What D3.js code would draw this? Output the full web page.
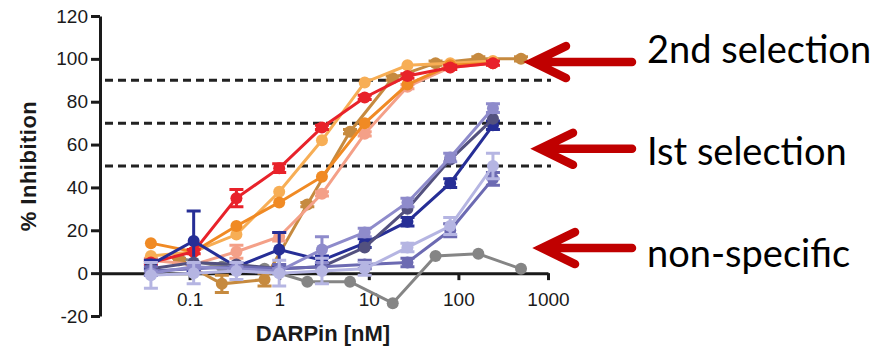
<!DOCTYPE html>
<html>
<head>
<meta charset="utf-8">
<script src="https://cdn.jsdelivr.net/npm/d3@7"></script>
<style>
  body { margin: 0; background: #fff; }
  svg { display: block; }
</style>
</head>
<body>
<div id="chart"></div>
<script>
// dilution series (nM)
const conc = [0.037, 0.111, 0.333, 1, 3, 9, 27, 81, 243];
const concB = [0.0762, 0.229, 0.686, 2.06, 6.17, 18.5, 55.6, 167, 500];

const xTicks = [0.1, 1, 10, 100, 1000];
const yTicks = [-20, 0, 20, 40, 60, 80, 100, 120];
const thresholds = [90, 70, 50];

const grayVals   = [7, 3, 2, -4, -4, -14, 8, 9, 2];
const brownVals  = [6, -5, -3, 32, 66, 91, 98, 100, 100];
const brownErr   = [1, 4, 3, 1, 1, 1, 1, 1, 1];
const salmonVals = [6, 4, 10, 17, 37, 65, 87, 96, 98];
const salmonErr  = [1, 1, 3, 2, 1, 1, 1, 1, 1];
const lightOrVals = [8, 10, 18, 38, 62, 89, 97, 98, 99];
const darkOrVals = [14, 10, 22, 33, 45, 70, 88, 97, 98];
const redVals    = [5, 10, 35, 49, 68, 82, 92, 96, 98];
const redErr     = [1, 1, 4, 2, 1, 1, 1, 1, 1];

const navyVals   = [4, 15, 3, 11, 6, 14, 24, 42, 69];
const navyErr    = [2, 14, 1, 8, 2, 2, 2, 2, 2];
const slateVals  = [2, 5, 4, 2, 3, 12, 30, 53, 72];
const medVals    = [1, 2, 3, 2, 3, 4, 5, 20, 44];
const medErr     = [2, 2, 2, 2, 2, 2, 2, 3, 3];
const purpleVals = [0, 3, 2, 1, 11, 19, 33, 54, 77];
const purpleErr  = [1, 1, 1, 1, 6, 2, 2, 2, 2];
const lavVals    = [-1, 0, 1, 0, 1, 2, 12, 22, 50];
const lavErr     = [6, 5, 4, 6, 6, 3, 2, 4, 6];

const labels = ["2nd selection", "Ist selection", "non-specific"];
const arrowTargets = [98.5, 58, 11.7];

const series = [
  {x: concB, v: grayVals, color: "#858585"},
  {x: concB, v: brownVals, e: brownErr, color: "#c68a3f"},
  {x: conc, v: salmonVals, e: salmonErr, color: "#f4a088"},
  {x: conc, v: lightOrVals, color: "#f7ae55"},
  {x: conc, v: darkOrVals, color: "#f08a24"},
  {x: conc, v: redVals, e: redErr, color: "#e8222a"},
  {x: conc, v: navyVals, e: navyErr, color: "#262e96"},
  {x: conc, v: slateVals, color: "#53517f"},
  {x: conc, v: medVals, e: medErr, color: "#6c6ab2"},
  {x: conc, v: purpleVals, e: purpleErr, color: "#8e8bcb"},
  {x: conc, v: lavVals, e: lavErr, color: "#b5b5e2"}
];

const W = 893, H = 349;
const svg = d3.select("#chart").append("svg")
  .attr("width", W).attr("height", H);

const x = d3.scaleLog().domain([0.01, 1000]).range([100, 548]);
const y = d3.scaleLinear().domain([-20, 120]).range([316, 16]);

// threshold lines
svg.selectAll(".thr")
  .data(thresholds)
  .enter().append("line")
  .attr("x1", x.range()[0] + 5)
  .attr("x2", x.range()[1] + 3)
  .attr("y1", d => y(d)).attr("y2", d => y(d))
  .style("stroke", "#222")
  .style("stroke-width", 3)
  .style("stroke-dasharray", "8,5");

// axes
const yAxis = svg.append("g")
  .attr("transform", `translate(${x.range()[0]},0)`)
  .call(d3.axisLeft(y).tickValues(yTicks).tickFormat(d => String(d))
    .tickSize(9).tickSizeOuter(0).tickPadding(3));

const xAxis = svg.append("g")
  .attr("transform", `translate(0,${y(0)})`)
  .call(d3.axisBottom(x).tickValues(xTicks).tickFormat(d3.format("~g"))
    .tickSize(7).tickSizeOuter(0).tickPadding(12));

[xAxis, yAxis].forEach(g => {
  g.select(".domain").style("stroke", "#1a1a1a").style("stroke-width", 3);
  g.selectAll(".tick line").style("stroke", "#1a1a1a").style("stroke-width", 3);
  g.selectAll("text")
    .style("font-family", "'Liberation Sans', Arial, sans-serif")
    .style("font-size", "19px")
    .style("fill", "#1a1a1a");
});

const line = d3.line()
  .x(d => x(d[0]))
  .y(d => y(d[1]));

series.forEach(s => {
  const pts = s.x.map((c, i) => [c, s.v[i], s.e ? s.e[i] : 0]);
  const g = svg.append("g");

  g.append("path")
    .datum(pts)
    .attr("d", line)
    .style("fill", "none")
    .style("stroke", s.color)
    .style("stroke-width", 3);

  const eb = pts.filter(d => d[2] > 0);
  g.selectAll(".eb")
    .data(eb)
    .enter().append("path")
    .attr("d", d => {
      const cx = x(d[0]), t = y(d[1] + d[2]), b = y(d[1] - d[2]);
      return `M${cx},${t}L${cx},${b}M${cx - 7},${t}L${cx + 7},${t}M${cx - 7},${b}L${cx + 7},${b}`;
    })
    .style("fill", "none")
    .style("stroke", s.color)
    .style("stroke-width", 3);

  g.selectAll(".dot")
    .data(pts)
    .enter().append("circle")
    .attr("cx", d => x(d[0]))
    .attr("cy", d => y(d[1]))
    .attr("r", 6)
    .style("fill", s.color);
});

// axis titles
svg.append("text")
  .attr("x", 323).attr("y", 341)
  .attr("text-anchor", "middle")
  .style("font-family", "'Liberation Sans', Arial, sans-serif")
  .style("font-size", "22px")
  .style("font-weight", "bold")
  .style("fill", "#1a1a1a")
  .text("DARPin [nM]");

svg.append("text")
  .attr("transform", "translate(36,166) rotate(-90)")
  .attr("text-anchor", "middle")
  .style("font-family", "'Liberation Sans', Arial, sans-serif")
  .style("font-size", "22px")
  .style("font-weight", "bold")
  .style("letter-spacing", "0.5px")
  .style("fill", "#1a1a1a")
  .text("% Inhibition");

// annotation arrows and labels
const arrowTip = [533, 540, 542];
const textY = [63, 165, 267];
arrowTargets.forEach((v, i) => {
  const ay = y(v), tx = arrowTip[i];
  svg.append("path")
    .attr("d", `M${tx + 3},${ay}L632,${ay}M${tx + 33},${ay - 16}L${tx},${ay}L${tx + 33},${ay + 16}`)
    .style("fill", "none")
    .style("stroke", "#c00000")
    .style("stroke-width", 8.5)
    .style("stroke-linecap", "round")
    .style("stroke-linejoin", "miter");

  svg.append("text")
    .attr("x", 647).attr("y", textY[i])
    .style("font-family", "Lato, 'Open Sans', sans-serif")
    .style("font-size", "38px")
    .style("fill", "#000")
    .text(labels[i]);
});
</script>
</body>
</html>
